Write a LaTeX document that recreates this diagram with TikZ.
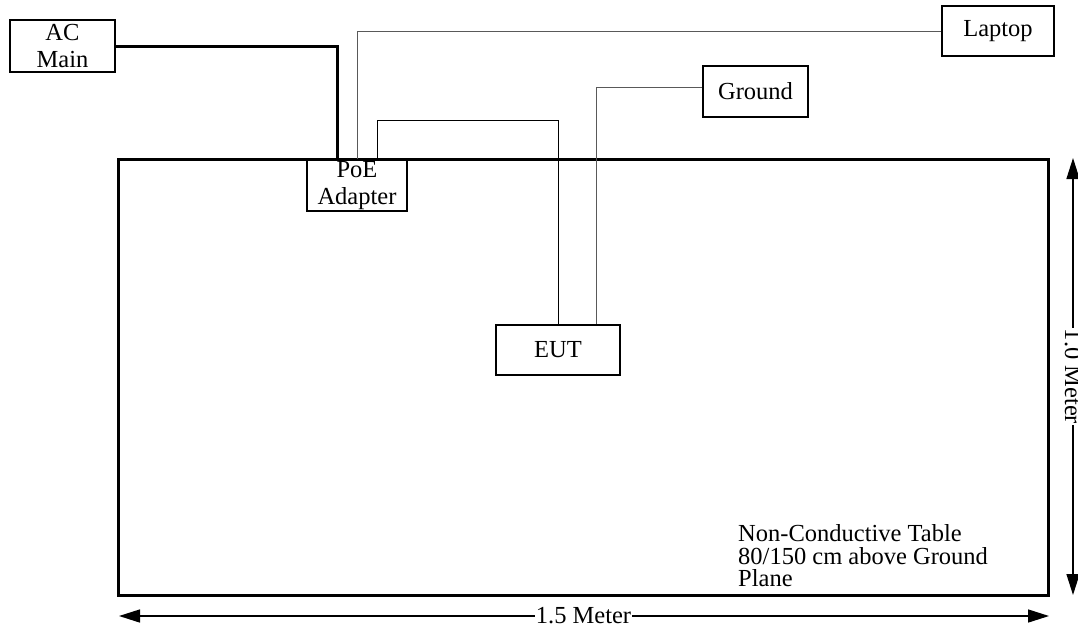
\documentclass[tikz,border=0pt]{standalone}
\usepackage{fontspec}
\setmainfont{Liberation Serif}
\usetikzlibrary{arrows.meta}
\begin{document}
\begin{tikzpicture}[x=1pt,y=-1pt,
  box/.style={draw=black, line width=1.4pt, fill=white, inner sep=0pt, align=center,
    font=\fontsize{24.5}{26.5}\selectfont},
  thickwire/.style={line width=3pt, line cap=rect},
  thinwire/.style={line width=0.9pt, draw=black!65},
  eutwire/.style={line width=0.9pt, draw=black},
  dimline/.style={line width=1.5pt, {Triangle[length=21pt,width=13pt]}-{Triangle[length=21pt,width=13pt]}},
  dimlabel/.style={fill=white, inner sep=1pt, font=\fontsize{24.5}{26}\selectfont}
]
\useasboundingbox (0,0) rectangle (1078,632);

% table
\draw[line width=3pt] (118,159) rectangle (1048,595);

% nodes
\node[box, minimum width=105pt, minimum height=52pt] (ac) at (62.5,46) {AC\\Main};
\node[box, minimum width=112pt, minimum height=50pt] (laptop) at (998,31) {Laptop};
\node[box, minimum width=105pt, minimum height=51pt] (ground) at (755.5,91.5) {Ground};
\node[box, minimum width=124pt, minimum height=50pt] (eut) at (558,350) {EUT};

% wires (drawn before PoE box so it sits on top of table edge)
\draw[thinwire] (357,160) |- (laptop.west);
\draw[eutwire] (377,160) -- (377,120) -| (eut.north);
\draw[thinwire] ([yshift=4pt]ground.west) -| ([xshift=38pt]eut.north);

\node[box, minimum width=100pt, minimum height=51pt] (poe) at (357,185.5) {PoE\\Adapter};
\draw[thickwire] (ac.east |- 0,46) -| ([xshift=-20pt]poe.north);

% note
\node[anchor=north west, inner sep=0pt, align=left,
  font=\fontsize{24.5}{22.5}\selectfont] (note) at (738,524.5)
  {Non-Conductive Table\\80/150 cm above Ground\\Plane};

% dimensions
\coordinate (hl) at (119,616);
\coordinate (hr) at (1049,616);
\coordinate (vt) at (1073,158);
\coordinate (vb) at (1073,595);
\draw[dimline] (hl) -- (hr);
\draw[dimline] (vt) -- (vb);
\node[dimlabel, anchor=base] (hlab) at (583.5,623.5) {1.5 Meter};
\node[dimlabel, rotate=-90, anchor=base] (vlab) at (1065,376.5) {1.0 Meter};
\end{tikzpicture}
\end{document}
